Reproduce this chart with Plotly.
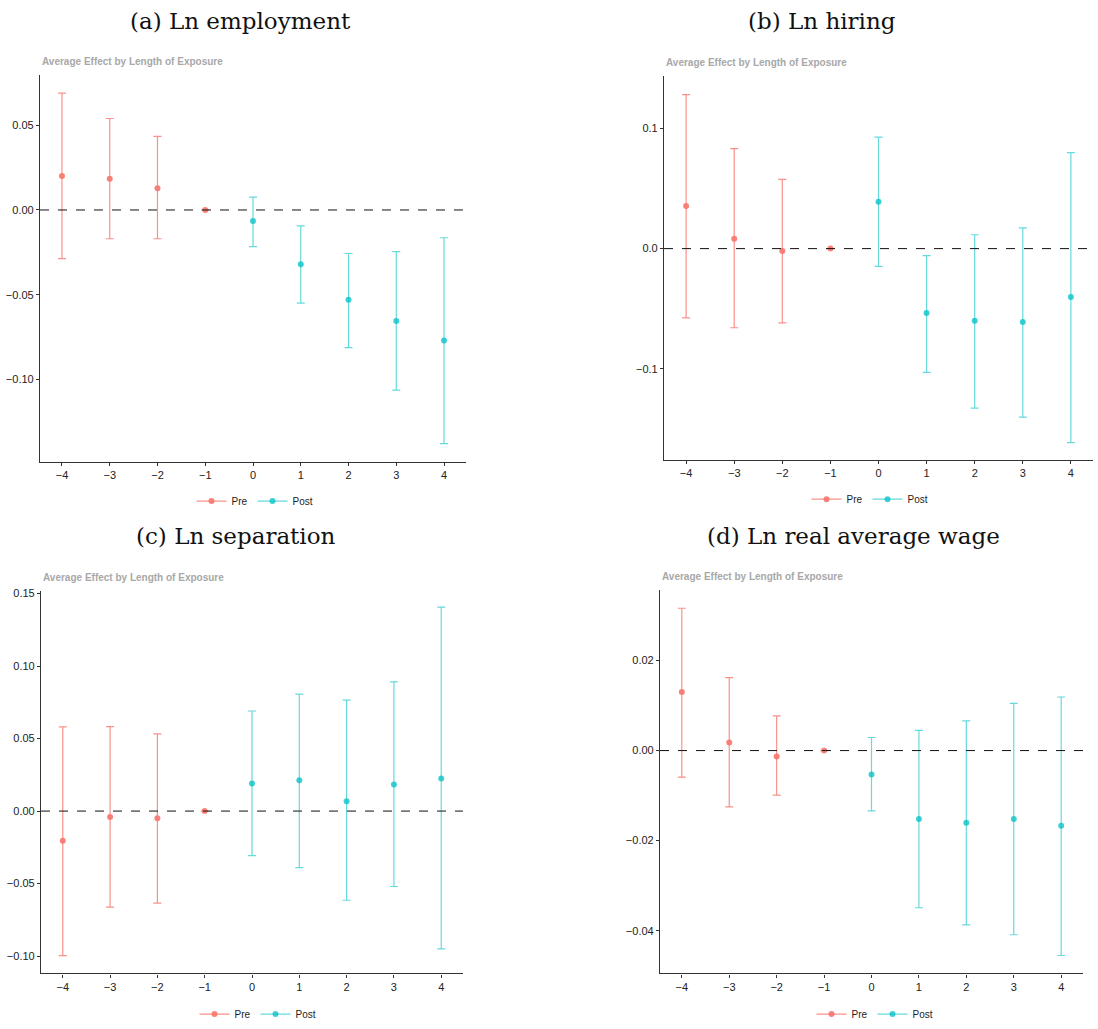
import plotly.graph_objects as go

W, H = 1098, 1029

periods = [-4, -3, -2, -1, 0, 1, 2, 3, 4]

# (a) Ln employment
emp_est = [0.020, 0.0185, 0.0128, 0.0, -0.0065, -0.032, -0.053, -0.0655, -0.077]
emp_hi = [0.069, 0.054, 0.0435, 0.0, 0.0076, -0.0094, -0.0257, -0.0246, -0.0164]
emp_lo = [-0.0287, -0.017, -0.017, 0.0, -0.0216, -0.055, -0.0813, -0.1064, -0.138]

# (b) Ln hiring
hire_est = [0.0354, 0.0082, -0.002, 0.0, 0.039, -0.0535, -0.060, -0.061, -0.0403]
hire_hi = [0.128, 0.0831, 0.0576, 0.0, 0.0926, -0.0058, 0.0115, 0.0173, 0.0798]
hire_lo = [-0.0576, -0.0658, -0.0617, 0.0, -0.0148, -0.1029, -0.1325, -0.140, -0.1613]

# (c) Ln separation
sep_est = [-0.0205, -0.004, -0.005, 0.0, 0.0191, 0.0212, 0.0068, 0.0184, 0.0225]
sep_hi = [0.058, 0.0583, 0.0533, 0.0, 0.069, 0.0806, 0.0765, 0.0891, 0.1407]
sep_lo = [-0.0997, -0.0663, -0.0635, 0.0, -0.0307, -0.039, -0.0615, -0.052, -0.095]

# (d) Ln real average wage
wage_est = [0.013, 0.0018, -0.0013, 0.0, -0.0053, -0.0152, -0.016, -0.0152, -0.0167]
wage_hi = [0.0316, 0.0162, 0.0077, 0.0, 0.0029, 0.0045, 0.0066, 0.0105, 0.0119]
wage_lo = [-0.0059, -0.0125, -0.0099, 0.0, -0.0134, -0.0349, -0.0387, -0.0409, -0.0455]

titles = ["(a) Ln employment", "(b) Ln hiring", "(c) Ln separation", "(d) Ln real average wage"]
subtitle = "Average Effect by Length of Exposure"
groups = ["Pre", "Post"]

x_ticks = [-4, -3, -2, -1, 0, 1, 2, 3, 4]
y_ticks = [
    [-0.10, -0.05, 0.00, 0.05],
    [-0.1, 0.0, 0.1],
    [-0.10, -0.05, 0.00, 0.05, 0.10, 0.15],
    [-0.04, -0.02, 0.00, 0.02],
]
y_fmt = [".2f", ".1f", ".2f", ".2f"]

panels = [
    (emp_est, emp_lo, emp_hi),
    (hire_est, hire_lo, hire_hi),
    (sep_est, sep_lo, sep_hi),
    (wage_est, wage_lo, wage_hi),
]

# pixel boxes: (left, right, top, bottom)
boxes = [(40, 466, 72, 462), (664, 1093, 73, 460), (41, 463, 593, 979), (660, 1083, 592, 979)]
y_ranges = [(-0.1485, 0.0795), (-0.1753, 0.1432), (-0.112, 0.1516), (-0.0495, 0.0356)]
x_range = (-4.46, 4.46)
title_pos = [(240, 17), (822, 17), (236, 537), (853, 537)]
legend_pos = [(255, 502), (870, 500), (258, 1020), (875, 1020)]

PRE_M = "rgba(248,118,109,0.9)"
POST_M = "rgba(0,191,196,0.75)"
PRE_B = "rgba(248,118,109,0.8)"
POST_B = "rgba(0,191,196,0.6)"
mcolors = {"Pre": PRE_M, "Post": POST_M}
bcolors = {"Pre": PRE_B, "Post": POST_B}
font_sans = "Liberation Sans, Arial, sans-serif"

fig = go.Figure()
layout = dict(
    width=W, height=H, margin=dict(l=0, r=0, t=0, b=0),
    paper_bgcolor="white", plot_bgcolor="white", showlegend=True,
    font=dict(family=font_sans, size=11, color="#222"),
)
annotations = []
shapes = []

for i, (est, lo, hi) in enumerate(panels):
    n = i + 1
    xa = "x" if n == 1 else f"x{n}"
    ya = "y" if n == 1 else f"y{n}"
    lg = "legend" if n == 1 else f"legend{n}"
    L, R, T, B = boxes[i]
    for g in groups:
        idx = [k for k, p in enumerate(periods) if (p < 0) == (g == "Pre")]
        xs = [periods[k] for k in idx]
        ys = [est[k] for k in idx]
        up = [hi[k] - est[k] for k in idx]
        dn = [est[k] - lo[k] for k in idx]
        fig.add_trace(go.Scatter(
            x=xs, y=ys, mode="markers", xaxis=xa, yaxis=ya, showlegend=False,
            marker=dict(color=mcolors[g], size=6),
            error_y=dict(type="data", symmetric=False, array=up, arrayminus=dn,
                         color=bcolors[g], thickness=1.2, width=4),
        ))
        fig.add_trace(go.Scatter(
            x=[None], y=[None], mode="lines+markers", xaxis=xa, yaxis=ya, name=g,
            legend=lg, line=dict(color=bcolors[g], width=1.2),
            marker=dict(color=mcolors[g], size=6),
        ))
    layout["xaxis" if n == 1 else f"xaxis{n}"] = dict(
        domain=[L / W, R / W], range=list(x_range), anchor=ya,
        tickvals=x_ticks, ticks="outside", ticklen=3, tickcolor="#333",
        showline=True, linecolor="#333", linewidth=1.2, showgrid=False, zeroline=False,
        tickfont=dict(size=11, color="#222"),
    )
    layout["yaxis" if n == 1 else f"yaxis{n}"] = dict(
        domain=[1 - B / H, 1 - T / H], range=list(y_ranges[i]), anchor=xa,
        tickvals=y_ticks[i], tickformat=y_fmt[i], ticks="outside", ticklen=3, tickcolor="#333",
        showline=True, linecolor="#333", linewidth=1.2, showgrid=False, zeroline=False,
        tickfont=dict(size=11, color="#222"),
    )
    shapes.append(dict(type="line", xref=f"{xa} domain", yref=ya, x0=0, x1=1, y0=0, y1=0,
                       line=dict(color="#111", width=1, dash="dash")))
    tx, ty = title_pos[i]
    annotations.append(dict(text=titles[i], x=tx / W, y=1 - ty / H, xref="paper", yref="paper",
                            showarrow=False, xanchor="center", yanchor="middle",
                            font=dict(family="DejaVu Serif, Liberation Serif, serif", size=23, color="#111")))
    annotations.append(dict(text="<b>" + subtitle + "</b>", x=L / W, y=1 - (T - 14) / H, xref="paper", yref="paper",
                            showarrow=False, xanchor="left", yanchor="middle",
                            font=dict(family=font_sans, size=10, color="#A8A8A8")))
    lx, ly = legend_pos[i]
    layout[lg] = dict(orientation="h", x=lx / W, y=1 - ly / H, xanchor="center", yanchor="middle",
                      font=dict(size=10, color="#222"), bgcolor="rgba(0,0,0,0)",
                      itemwidth=30, tracegroupgap=0)

layout["annotations"] = annotations
layout["shapes"] = shapes
fig.update_layout(**layout)
fig.write_html("out.html")
